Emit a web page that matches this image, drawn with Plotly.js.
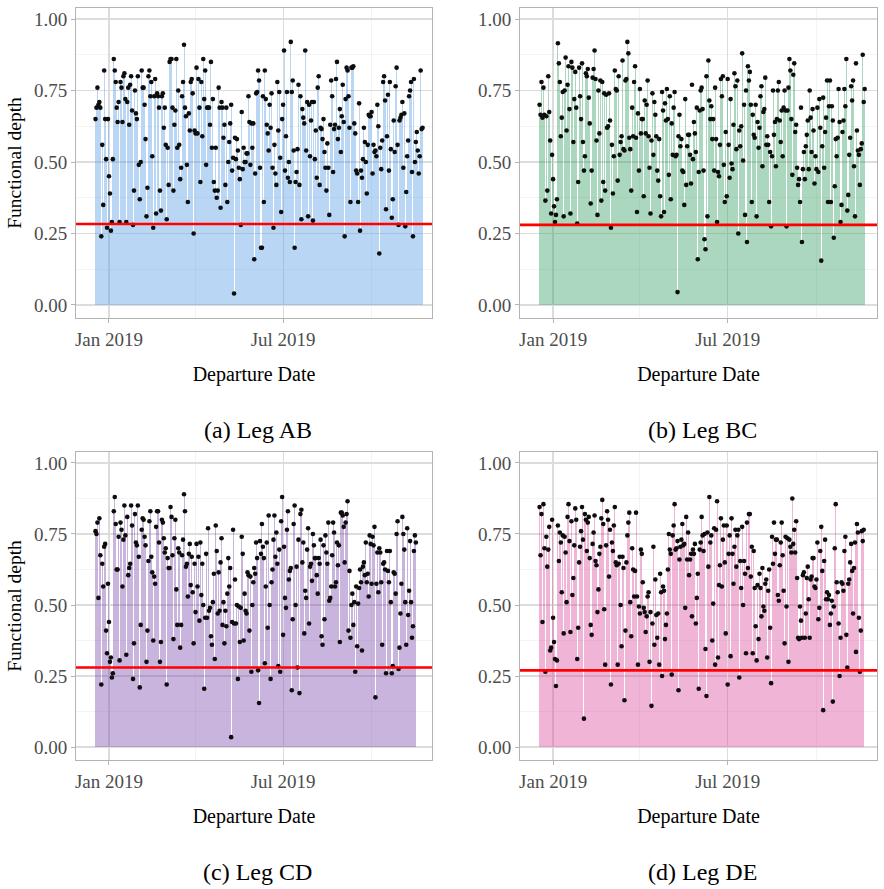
<!DOCTYPE html>
<html>
<head>
<meta charset="utf-8">
<script src="https://cdn.plot.ly/plotly-3.0.1.min.js"></script>
<style>
  html, body { margin: 0; padding: 0; background: #fff; }
  #chart { width: 884px; height: 889px; }
</style>
</head>
<body>
<div id="chart"></div>
<script>
// Daily functional depth per departure date, one series per leg.
const firstDeparture = '2018-12-18';

const depthAB = [
  0.65,0.69,0.76,0.70,0.71,0.69,0.24,0.56,0.35,0.82,0.65,0.51,0.27,0.65,0.45,0.39,0.26,0.29,0.51,0.86,
  0.82,0.78,0.69,0.64,0.71,0.29,0.78,0.76,0.64,0.80,0.81,0.72,0.29,0.71,0.76,0.63,0.77,0.80,0.68,0.28,
  0.40,0.75,0.67,0.65,0.80,0.49,0.37,0.50,0.82,0.76,0.76,0.70,0.58,0.31,0.41,0.80,0.82,0.73,0.78,0.52,
  0.27,0.73,0.79,0.32,0.74,0.73,0.69,0.40,0.33,0.73,0.74,0.62,0.69,0.56,0.30,0.55,0.42,0.85,0.86,0.86,
  0.69,0.40,0.63,0.68,0.86,0.55,0.75,0.56,0.44,0.48,0.73,0.78,0.91,0.69,0.66,0.49,0.36,0.67,0.61,0.78,
  0.79,0.74,0.25,0.61,0.60,0.83,0.60,0.79,0.69,0.43,0.78,0.59,0.86,0.72,0.82,0.49,
  0.69,0.69,0.69,0.63,0.85,0.55,0.72,0.43,0.40,0.55,0.375,0.40,0.76,0.69,0.34,0.71,0.69,0.585,0.63,0.42,
  0.69,0.36,0.50,0.57,0.635,0.70,0.47,0.515,0.04,0.585,0.51,0.58,0.54,0.48,0.44,0.28,0.675,0.475,0.55,0.50,
  0.50,0.53,0.53,0.73,0.64,0.49,0.635,0.55,0.635,0.16,0.46,0.74,0.745,0.82,0.785,0.48,0.20,0.20,0.73,0.36,
  0.82,0.72,0.63,0.60,0.54,0.70,0.62,0.74,0.48,0.27,0.56,0.46,0.42,0.78,0.61,0.745,0.515,0.325,0.65,0.70,
  0.89,0.47,0.59,0.745,0.445,0.50,0.43,0.92,0.745,0.785,0.54,0.20,0.43,0.465,0.545,0.77,0.42,0.73,0.30,0.685,
  0.655,0.635,0.89,0.54,0.71,0.31,0.70,0.52,0.645,0.71,0.295,0.71,0.51,0.61,0.445,0.76,0.80,
  0.42,0.62,0.615,0.58,0.65,0.535,0.48,0.40,0.565,0.48,0.315,0.63,0.785,0.73,0.465,0.615,0.63,0.79,0.85,0.58,
  0.62,0.685,0.535,0.66,0.77,0.64,0.24,0.72,0.83,0.82,0.73,0.62,0.36,0.83,0.83,0.835,0.635,0.60,0.47,0.46,
  0.36,0.705,0.26,0.47,0.445,0.51,0.62,0.57,0.50,0.39,0.56,0.665,0.66,0.66,0.675,0.46,0.56,0.535,0.54,0.52,
  0.70,0.625,0.18,0.55,0.475,0.575,0.78,0.80,0.715,0.335,0.59,0.735,0.47,0.78,0.545,0.305,0.37,0.645,0.535,0.765,
  0.83,0.56,0.28,0.645,0.655,0.665,0.71,0.48,0.67,0.275,0.395,0.52,0.575,0.73,0.75,0.78,0.465,0.24,0.79,0.50,
  0.57,0.605,0.54,0.46,0.52,0.82,0.615,0.62
];

const depthBC = [
  0.70,0.665,0.78,0.655,0.76,0.665,0.365,0.66,0.40,0.80,0.675,0.575,0.32,0.525,0.44,0.345,0.29,0.315,0.37,0.915,
  0.845,0.78,0.59,0.655,0.745,0.31,0.75,0.865,0.61,0.77,0.835,0.685,0.32,0.85,0.83,0.57,0.72,0.815,0.69,0.285,
  0.43,0.83,0.73,0.65,0.845,0.57,0.47,0.52,0.81,0.80,0.825,0.725,0.635,0.355,0.47,0.795,0.825,0.89,0.79,0.575,
  0.315,0.75,0.60,0.785,0.365,0.78,0.43,0.74,0.40,0.735,0.62,0.625,0.74,0.645,0.27,0.56,0.39,0.52,0.82,0.755,
  0.75,0.435,0.80,0.525,0.57,0.59,0.855,0.545,0.54,0.785,0.79,0.92,0.88,0.585,0.545,0.40,0.69,0.59,0.78,0.835,
  0.585,0.325,0.67,0.47,0.755,0.60,0.65,0.65,0.38,0.715,0.60,0.70,0.785,0.59,0.48,0.32,
  0.575,0.74,0.525,0.71,0.665,0.59,0.47,0.435,0.58,0.38,0.31,0.745,0.68,0.325,0.705,0.645,0.755,0.65,0.455,0.73,
  0.37,0.635,0.525,0.69,0.745,0.52,0.525,0.045,0.59,0.665,0.555,0.58,0.47,0.465,0.35,0.72,0.42,0.555,0.595,0.595,
  0.525,0.425,0.77,0.51,0.64,0.60,0.535,0.69,0.16,0.465,0.68,0.75,0.76,0.685,0.47,0.23,0.195,0.80,0.31,0.855,
  0.715,0.65,0.695,0.58,0.65,0.47,0.76,0.58,0.29,0.465,0.45,0.56,0.79,0.73,0.80,0.49,0.36,0.605,0.38,0.79,
  0.56,0.445,0.72,0.495,0.475,0.63,0.81,0.765,0.545,0.785,0.25,0.61,0.555,0.625,0.88,0.505,0.70,0.315,0.75,0.22,
  0.835,0.785,0.815,0.70,0.36,0.665,0.595,0.585,0.70,0.31,0.64,0.55,0.62,0.73,0.765,
  0.485,0.675,0.685,0.795,0.56,0.59,0.56,0.36,0.535,0.275,0.52,0.75,0.595,0.64,0.485,0.65,0.75,0.78,0.645,0.57,
  0.68,0.52,0.69,0.75,0.68,0.275,0.68,0.76,0.86,0.82,0.65,0.455,0.805,0.845,0.605,0.63,0.48,0.42,0.44,0.36,
  0.69,0.22,0.475,0.535,0.44,0.555,0.595,0.645,0.475,0.75,0.655,0.535,0.685,0.61,0.425,0.52,0.475,0.69,0.465,0.72,
  0.62,0.155,0.555,0.725,0.48,0.605,0.655,0.785,0.36,0.695,0.785,0.36,0.695,0.645,0.235,0.415,0.58,0.52,0.585,0.755,
  0.64,0.29,0.35,0.605,0.645,0.755,0.695,0.86,0.33,0.385,0.525,0.585,0.765,0.715,0.785,0.485,0.31,0.845,0.61,0.54,
  0.525,0.42,0.545,0.565,0.875,0.71,0.755
];

const depthCD = [
  0.76,0.75,0.79,0.525,0.805,0.675,0.22,0.645,0.565,0.705,0.715,0.41,0.33,0.575,0.44,0.30,0.315,0.245,0.26,0.83,
  0.88,0.785,0.625,0.625,0.74,0.305,0.79,0.765,0.565,0.73,0.85,0.745,0.325,0.81,0.605,0.63,0.645,0.85,0.78,0.24,
  0.365,0.82,0.72,0.71,0.85,0.67,0.21,0.43,0.765,0.805,0.80,0.74,0.71,0.30,0.41,0.655,0.795,0.83,0.67,0.615,
  0.375,0.60,0.575,0.775,0.83,0.83,0.72,0.30,0.37,0.80,0.79,0.735,0.685,0.70,0.22,0.665,0.63,0.63,0.845,0.81,
  0.675,0.38,0.735,0.80,0.555,0.43,0.70,0.685,0.35,0.43,0.675,0.73,0.89,0.83,0.635,0.645,0.53,0.68,0.715,0.57,
  0.67,0.545,0.365,0.645,0.475,0.715,0.565,0.67,0.445,0.72,0.535,0.645,0.50,
  0.205,0.455,0.68,0.455,0.77,0.48,0.49,0.39,0.36,0.51,0.61,0.31,0.78,0.69,0.47,0.615,0.48,0.65,0.735,0.43,
  0.51,0.365,0.48,0.425,0.54,0.665,0.565,0.63,0.035,0.44,0.765,0.435,0.59,0.435,0.50,0.24,0.495,0.37,0.49,0.74,
  0.68,0.375,0.54,0.48,0.47,0.615,0.605,0.41,0.60,0.265,0.50,0.58,0.63,0.61,0.72,0.665,0.27,0.155,0.725,0.68,
  0.785,0.705,0.665,0.295,0.565,0.72,0.42,0.815,0.50,0.24,0.58,0.625,0.73,0.815,0.67,0.755,0.645,0.285,0.695,0.265,
  0.795,0.88,0.395,0.705,0.525,0.49,0.765,0.83,0.59,0.62,0.63,0.20,0.45,0.785,0.85,0.50,0.635,0.28,0.73,0.19,
  0.82,0.835,0.65,0.72,0.40,0.55,0.525,0.695,0.77,0.435,0.635,0.645,0.585,
  0.75,0.71,0.665,0.665,0.605,0.54,0.665,0.645,0.73,0.39,0.36,0.71,0.45,0.745,0.685,0.645,0.79,0.515,0.525,0.565,
  0.675,0.79,0.755,0.565,0.58,0.72,0.64,0.71,0.37,0.825,0.825,0.815,0.775,0.65,0.79,0.82,0.865,0.41,0.62,0.385,
  0.50,0.54,0.43,0.51,0.265,0.565,0.355,0.505,0.56,0.625,0.58,0.34,0.635,0.65,0.605,0.72,0.58,0.61,0.53,0.745,
  0.715,0.575,0.74,0.71,0.775,0.175,0.575,0.685,0.545,0.70,0.685,0.58,0.36,0.645,0.65,0.625,0.26,0.69,0.62,0.58,
  0.69,0.51,0.26,0.285,0.615,0.61,0.54,0.75,0.795,0.275,0.35,0.47,0.575,0.81,0.75,0.695,0.51,0.36,0.77,0.465,
  0.55,0.725,0.51,0.385,0.425,0.69,0.745,0.72
];

const depthDE = [
  0.845,0.675,0.82,0.44,0.855,0.70,0.265,0.74,0.635,0.695,0.775,0.34,0.35,0.80,0.455,0.37,0.31,0.215,0.305,0.78,
  0.655,0.755,0.72,0.545,0.745,0.40,0.74,0.685,0.51,0.81,0.855,0.725,0.405,0.795,0.535,0.595,0.71,0.84,0.80,0.31,
  0.42,0.65,0.705,0.76,0.845,0.73,0.10,0.82,0.80,0.69,0.79,0.81,0.665,0.43,0.395,0.715,0.755,0.815,0.655,0.64,
  0.475,0.555,0.68,0.705,0.805,0.87,0.785,0.485,0.29,0.71,0.83,0.80,0.60,0.765,0.22,0.72,0.69,0.78,0.845,0.65,
  0.64,0.29,0.645,0.67,0.50,0.355,0.67,0.63,0.165,0.41,0.65,0.745,0.79,0.825,0.51,0.39,0.70,0.625,0.53,0.62,
  0.825,0.53,0.29,0.495,0.47,0.695,0.68,0.58,0.49,0.475,0.405,0.46,0.53,0.545,0.30,
  0.475,0.145,0.435,0.705,0.36,0.59,0.465,0.385,0.47,0.29,0.61,0.545,0.25,0.565,0.55,0.38,0.43,0.47,0.625,0.75,
  0.695,0.68,0.255,0.745,0.78,0.855,0.695,0.70,0.725,0.20,0.66,0.705,0.73,0.785,0.71,0.715,0.49,0.81,0.66,0.755,
  0.605,0.66,0.68,0.46,0.695,0.68,0.715,0.435,0.525,0.61,0.205,0.695,0.72,0.81,0.745,0.69,0.75,0.345,0.18,0.755,
  0.635,0.88,0.72,0.745,0.375,0.505,0.77,0.29,0.765,0.865,0.315,0.57,0.64,0.805,0.565,0.73,0.78,0.65,0.40,0.78,
  0.22,0.68,0.745,0.32,0.805,0.68,0.575,0.705,0.765,0.635,0.745,0.765,0.245,0.655,0.56,0.775,0.50,0.655,0.61,0.33,
  0.79,0.63,0.82,0.82,0.60,0.705,0.33,0.69,0.56,0.425,0.305,0.57,0.38,0.61,0.56,
  0.46,0.63,0.495,0.48,0.575,0.59,0.315,0.55,0.625,0.42,0.225,0.74,0.645,0.79,0.68,0.73,0.73,0.535,0.515,0.64,
  0.72,0.79,0.675,0.55,0.365,0.74,0.495,0.735,0.30,0.73,0.705,0.685,0.875,0.715,0.765,0.685,0.795,0.595,0.385,0.38,
  0.495,0.445,0.385,0.605,0.615,0.385,0.47,0.595,0.635,0.52,0.385,0.59,0.60,0.665,0.665,0.565,0.56,0.59,0.72,0.45,
  0.49,0.69,0.775,0.62,0.13,0.655,0.73,0.52,0.545,0.52,0.535,0.43,0.47,0.515,0.16,0.495,0.70,0.855,0.58,0.545,
  0.435,0.25,0.385,0.58,0.575,0.55,0.69,0.74,0.395,0.28,0.575,0.59,0.65,0.715,0.62,0.47,0.63,0.72,0.335,0.785,
  0.755,0.455,0.265,0.41,0.76,0.725,0.765
];

// Reference threshold drawn in red on each panel.
const thresholds = [0.283, 0.28, 0.28, 0.27];
const legNames = ['(a) Leg AB', '(b) Leg BC', '(c) Leg CD', '(d) Leg DE'];
const yTickVals = [0, 0.25, 0.5, 0.75, 1];

const series = [depthAB, depthBC, depthCD, depthDE];
const fills = ['rgba(80,155,230,0.40)', 'rgba(42,155,92,0.40)', 'rgba(117,67,167,0.40)', 'rgba(217,67,155,0.40)'];

// Panel geometry in pixels (left, right, top, bottom) on the 884x889 page.
const W = 884, H = 889;
const boxes = [
  [76, 432, 8, 318],
  [520, 877, 8, 318],
  [76, 432, 452, 760],
  [520, 877, 452, 760]
];

const DAY = 86400000;
function dailyDates(start, n) {
  const t0 = Date.parse(start + 'T00:00:00Z');
  const out = [];
  for (let i = 0; i < n; i++) out.push(new Date(t0 + i * DAY).toISOString().slice(0, 10));
  return out;
}

const FONT = 'Liberation Serif';
const traces = [];
const layout = {
  width: W, height: H,
  margin: {l: 0, r: 0, t: 0, b: 0},
  paper_bgcolor: '#ffffff',
  plot_bgcolor: '#ffffff',
  showlegend: false,
  bargap: 0,
  barmode: 'overlay',
  font: {family: FONT, color: '#000'},
  shapes: [],
  annotations: []
};

series.forEach((vals, i) => {
  const k = i === 0 ? '' : String(i + 1);
  const xa = 'x' + k, ya = 'y' + k;
  const dates = dailyDates(firstDeparture, vals.length);
  const [l, r, t, b] = boxes[i];

  traces.push({
    type: 'bar', x: dates, y: vals, xaxis: xa, yaxis: ya,
    width: DAY,
    marker: {color: fills[i], line: {width: 0}},
    hoverinfo: 'skip'
  });
  traces.push({
    type: 'scatter', mode: 'markers', x: dates, y: vals, xaxis: xa, yaxis: ya,
    marker: {size: 4.6, color: '#0d0d0d'},
    cliponaxis: false
  });

  layout['xaxis' + k] = {
    type: 'date',
    domain: [l / W, r / W],
    anchor: ya,
    range: ['2018-11-27 17:00', '2019-12-02 19:00'],
    tick0: '2019-01-01', dtick: 'M6', tickformat: '%b %Y',
    ticks: 'outside', ticklen: 4, tickwidth: 1, tickcolor: '#b3b3b3',
    tickfont: {family: FONT, size: 19, color: '#4d4d4d'},
    showgrid: true, gridcolor: '#dcdcdc', gridwidth: 1.2,
    minor: {tick0: '2019-01-01', dtick: 'M3', showgrid: true, gridcolor: '#ebebeb', gridwidth: 0.6},
    showline: true, mirror: true, linecolor: '#b3b3b3', linewidth: 1,
    zeroline: false, automargin: false,
    title: {text: 'Departure Date', font: {family: FONT, size: 20, color: '#000000'}, standoff: 18}
  };
  layout['yaxis' + k] = {
    domain: [1 - b / H, 1 - t / H],
    anchor: xa,
    range: [-0.0455, 1.0385],
    tickvals: yTickVals, tickformat: '.2f',
    ticks: 'outside', ticklen: 4, tickwidth: 1, tickcolor: '#b3b3b3',
    tickfont: {family: FONT, size: 19, color: '#4d4d4d'},
    showgrid: true, gridcolor: '#dcdcdc', gridwidth: 1.2,
    minor: {tick0: 0.125, dtick: 0.25, showgrid: true, gridcolor: '#ebebeb', gridwidth: 0.6},
    showline: true, mirror: true, linecolor: '#b3b3b3', linewidth: 1,
    zeroline: false, automargin: false,
    title: i % 2 === 0
      ? {text: 'Functional depth', font: {family: FONT, size: 19.5, color: '#000000'}, standoff: 7}
      : {text: ''}
  };

  layout.shapes.push({
    type: 'line', xref: xa + ' domain', yref: ya,
    x0: 0, x1: 1, y0: thresholds[i], y1: thresholds[i],
    line: {color: '#ff0000', width: 2.6}, layer: 'above'
  });

  layout.annotations.push({
    xref: 'paper', yref: 'paper',
    x: (l + r) / 2 / W + 4 / W,
    y: 1 - (b + 112) / H,
    text: legNames[i], showarrow: false,
    xanchor: 'center', yanchor: 'middle',
    font: {family: FONT, size: 24, color: '#000'}
  });
});

Plotly.newPlot('chart', traces, layout, {displayModeBar: false, staticPlot: true});
</script>
</body>
</html>
